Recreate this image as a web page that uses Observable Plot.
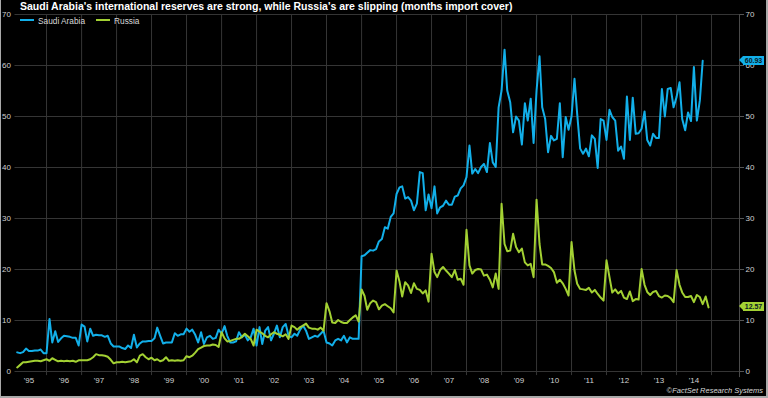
<!DOCTYPE html>
<html>
<head>
<meta charset="utf-8">
<script src="https://cdn.jsdelivr.net/npm/d3@7"></script>
<script src="https://cdn.jsdelivr.net/npm/@observablehq/plot@0.6"></script>
<style>
  html, body { margin: 0; padding: 0; background: #a9a9a9; }
  #wrap { position: relative; width: 768px; height: 398px; overflow: hidden; font-family: "Liberation Sans", Arial, sans-serif; }
  #bg { position: absolute; left: 1px; top: 0; width: 765px; height: 396px; background: #000; }
  #chart { position: absolute; left: 0; top: 0; }
  #title { position: absolute; left: 20px; top: 1px; font-size: 10.5px; line-height: 1; font-weight: bold; color: #fff; white-space: nowrap; }
  #legend { position: absolute; left: 20px; top: 16.5px; font-size: 8.3px; line-height: 1; color: #d8d8d8; display: flex; align-items: center; white-space: nowrap; }
  #legend .sw { display: inline-block; width: 14px; height: 2px; margin-right: 4px; position: relative; top: -1px; }
  #legend .item { display: flex; align-items: center; margin-right: 11px; }
  #caption { position: absolute; right: 5px; top: 387px; font-size: 7.5px; line-height: 1; font-style: italic; color: #d8d8d8; white-space: nowrap; }
  .endlab { position: absolute; left: 743px; height: 9px; width: 21px; font-size: 7px; line-height: 9px; font-weight: bold; text-align: center; color: #0a1a24; }
  .endlab::before { content: ""; position: absolute; left: -4px; top: 0; border-top: 4.5px solid transparent; border-bottom: 4.5px solid transparent; border-right: 4px solid var(--c); }
</style>
</head>
<body>
<div id="wrap">
  <div id="bg"></div>
  <div id="chart"></div>
  <div id="title"></div>
  <div id="legend"></div>
  <div id="caption"></div>
</div>
<script>
// ---- Data (monthly, months import cover), first value = March 1995 ----
const startYear = 1995, startMonth = 2; // March (0-based)

const saudiArabia = [
  3.75, 3.6, 3.8, 4.5, 4.0, 4.0, 4.1, 4.1, 4.3, 3.6,                 // 1995 Mar-Dec
  3.6, 10.3, 5.7, 7.9, 5.8, 6.5, 7.0, 6.9, 6.8, 6.6, 6.6, 5.1,       // 1996
  9.2, 8.8, 5.9, 8.4, 7.0, 7.2, 7.1, 7.1, 6.8, 7.0, 5.5, 4.9,        // 1997
  4.9, 4.9, 4.6, 4.4, 5.1, 4.6, 7.2, 4.7, 5.5, 5.9, 5.9, 6.0,        // 1998
  6.0, 6.5, 8.6, 7.0, 5.5, 5.7, 5.7, 5.7, 7.5, 7.0, 7.3, 7.3,        // 1999
  8.4, 7.8, 8.2, 7.2, 5.7, 7.7, 5.4, 6.7, 7.0, 6.4, 6.6, 8.2,        // 2000
  7.4, 8.9, 7.0, 5.7, 5.7, 5.9, 7.7, 6.7, 7.2, 6.1, 6.7, 8.4,        // 2001
  5.1, 8.7, 5.4, 8.0, 8.7, 6.1, 7.4, 9.0, 6.7, 8.7, 9.3, 7.0,        // 2002
  6.7, 7.4, 7.0, 8.2, 9.0, 8.0, 6.4, 6.7, 7.0, 6.8, 7.4, 8.0,        // 2003
  5.7, 5.5, 5.1, 6.1, 6.4, 6.1, 7.0, 5.7, 6.7, 6.4, 6.4, 6.4,        // 2004
  22.6, 22.8, 23.3, 23.8, 23.7, 24.0, 25.5, 26.0, 28.3, 28.0, 30.3, 31.0, // 2005
  34.8, 36.1, 36.3, 33.9, 34.2, 33.5, 31.6, 32.9, 39.1, 38.9, 31.6, 34.7, // 2006
  32.0, 36.3, 31.0, 32.2, 32.5, 33.5, 32.7, 32.7, 34.3, 34.5, 35.9, 36.5, // 2007
  38.1, 44.3, 38.8, 39.7, 38.9, 40.1, 40.7, 39.1, 44.8, 41.0, 40.1, 51.8, // 2008
  55.1, 63.1, 55.1, 52.8, 46.9, 50.0, 49.2, 44.5, 52.6, 49.2, 53.5, 44.8, // 2009
  55.1, 61.8, 51.8, 49.5, 43.0, 46.2, 45.3, 45.6, 52.6, 42.0, 49.9, 47.4, // 2010
  50.0, 57.4, 50.5, 43.7, 42.7, 43.7, 42.2, 46.3, 45.6, 39.9, 49.5, 49.2, // 2011
  45.4, 51.3, 49.9, 49.2, 43.3, 44.1, 41.7, 53.9, 45.4, 53.7, 46.6, 46.7, // 2012
  47.6, 51.0, 45.4, 44.3, 46.6, 45.8, 45.8, 55.4, 50.0, 55.4, 55.6, 51.8, // 2013
  53.8, 56.7, 49.5, 47.3, 50.8, 49.1, 59.7, 49.2, 53.1, 60.93              // 2014
];

const russia = [
  0.8, 1.3, 1.8, 1.8, 1.9, 2.0, 2.1, 2.1, 2.0, 2.2,                  // 1995 Mar-Dec
  2.4, 2.1, 2.6, 2.3, 2.0, 2.1, 2.0, 2.1, 2.0, 2.1, 1.9, 2.2,        // 1996
  2.2, 2.2, 2.2, 2.4, 2.8, 3.4, 3.2, 3.2, 3.1, 2.9, 2.3, 1.6,        // 1997
  1.8, 1.8, 1.9, 1.8, 1.9, 2.0, 2.4, 1.8, 3.1, 3.4, 2.8, 2.4,        // 1998
  2.7, 2.2, 2.4, 2.0, 2.2, 2.8, 2.1, 2.2, 2.1, 2.2, 2.1, 2.2,        // 1999
  3.0, 2.8, 3.1, 3.7, 4.4, 4.7, 5.0, 5.1, 5.1, 5.3, 5.2, 4.8,        // 2000
  7.7, 6.5, 5.9, 6.0, 6.2, 6.4, 6.4, 6.8, 7.4, 6.9, 6.4, 5.1,        // 2001
  8.2, 7.8, 7.5, 7.0, 6.7, 7.3, 7.7, 7.4, 7.2, 6.9, 7.3, 6.4,        // 2002
  9.0, 8.7, 8.2, 8.7, 9.0, 9.4, 8.6, 8.4, 8.4, 8.2, 8.6, 8.0,        // 2003
  13.4, 11.8, 9.6, 9.5, 10.1, 9.7, 9.5, 9.5, 10.1, 10.6, 11.0, 9.8,  // 2004
  16.1, 14.8, 12.1, 13.4, 13.9, 13.6, 12.2, 12.9, 13.2, 12.8, 12.4, 11.6, // 2005
  19.8, 17.6, 14.7, 17.5, 16.9, 15.4, 17.3, 16.2, 16.0, 15.3, 15.9, 13.7, // 2006
  23.1, 19.5, 18.5, 19.9, 20.5, 19.8, 19.2, 18.5, 19.9, 18.0, 18.2, 17.0, // 2007
  27.8, 20.8, 19.2, 19.9, 20.1, 20.0, 18.8, 19.0, 18.0, 16.5, 19.2, 16.2, // 2008
  32.9, 25.0, 23.6, 23.7, 27.0, 24.4, 23.4, 24.1, 21.4, 20.8, 21.1, 18.5, // 2009
  33.7, 25.0, 21.0, 21.0, 20.7, 20.3, 19.5, 17.4, 18.0, 17.3, 16.2, 14.9, // 2010
  25.4, 19.8, 17.2, 16.2, 16.1, 16.0, 16.4, 15.5, 16.0, 15.2, 14.5, 13.9, // 2011
  21.8, 18.5, 15.5, 16.1, 15.3, 15.8, 14.5, 14.2, 15.7, 13.8, 14.2, 14.1, // 2012
  20.1, 17.0, 15.6, 15.0, 15.6, 15.8, 14.8, 14.5, 14.9, 14.8, 14.4, 13.6, // 2013
  19.9, 17.0, 15.5, 14.6, 14.6, 14.8, 13.6, 15.0, 14.6, 13.2, 14.7, 12.57 // 2014
];

const seriesNames = ["Saudi Arabia", "Russia"];
const seriesColors = ["#12afe9", "#a3d133"];
const yearLabels = ["'95","'96","'97","'98","'99","'00","'01","'02","'03","'04",
                    "'05","'06","'07","'08","'09","'10","'11","'12","'13","'14"];
const yTicks = [0, 10, 20, 30, 40, 50, 60, 70];
const titleText = "Saudi Arabia's international reserves are strong, while Russia's are slipping (months import cover)";
const captionText = "\u00A9FactSet Research Systems";

// ---- Build tables ----
const toRows = (arr, name) => arr.map((v, i) => ({
  date: new Date(Date.UTC(startYear, startMonth + i, 1)), value: v, series: name
}));
const saudiRows = toRows(saudiArabia, seriesNames[0]);
const russiaRows = toRows(russia, seriesNames[1]);

const xStart = new Date(Date.UTC(1995, 1, 6));
const xEnd = new Date(Date.UTC(2015, 9, 20));
const gridDates = yearLabels.map((_, i) => new Date(Date.UTC(1996 + i, 0, 1)));
const labelDates = yearLabels.map((_, i) => new Date(Date.UTC(1995 + i, 6, 2)));

const gridColor = "#353535";
const textColor = "#d0d0d0";

const plot = Plot.plot({
  width: 768,
  height: 398,
  marginTop: 14,
  marginBottom: 27,
  marginLeft: 14.5,
  marginRight: 29,
  style: { background: "transparent", fontFamily: "'Liberation Sans', Arial, sans-serif", color: textColor },
  x: { type: "utc", domain: [xStart, xEnd] },
  y: { domain: [0, 70] },
  marks: [
    Plot.ruleY(yTicks, { stroke: gridColor }),
    Plot.ruleX(gridDates, { y1: -0.8, y2: 70, stroke: gridColor }),
    Plot.ruleX([xEnd], { y1: -1.2, y2: 70, stroke: "#4a4a4a" }),
    Plot.axisY(yTicks, { anchor: "left", tickSize: 0, tickPadding: 4, fontSize: 8, fill: textColor, label: null }),
    Plot.axisY(yTicks, { anchor: "right", tickSize: 4, tickPadding: 2, fontSize: 8, fill: textColor, stroke: "#555", label: null }),
    Plot.axisX(labelDates, { anchor: "bottom", tickSize: 0, tickPadding: 6, fontSize: 8, fill: textColor, label: null,
      tickFormat: d => yearLabels[d.getUTCFullYear() - 1995] }),
    Plot.line(saudiRows, { x: "date", y: "value", stroke: seriesColors[0], strokeWidth: 2, strokeLinejoin: "round" }),
    Plot.line(russiaRows, { x: "date", y: "value", stroke: seriesColors[1], strokeWidth: 2, strokeLinejoin: "round" })
  ]
});
document.getElementById("chart").appendChild(plot);

// ---- Text overlays ----
document.getElementById("title").textContent = titleText;
document.getElementById("caption").textContent = captionText;
const legend = document.getElementById("legend");
seriesNames.forEach((n, i) => {
  const item = document.createElement("span");
  item.className = "item";
  const sw = document.createElement("span");
  sw.className = "sw";
  sw.style.background = seriesColors[i];
  item.appendChild(sw);
  item.appendChild(document.createTextNode(n));
  legend.appendChild(item);
});

// ---- End-value labels positioned with the y scale ----
const ys = plot.scale("y");
const wrap = document.getElementById("wrap");
[saudiArabia, russia].forEach((arr, i) => {
  const v = arr[arr.length - 1];
  const el = document.createElement("div");
  el.className = "endlab";
  el.style.background = seriesColors[i];
  el.style.setProperty("--c", seriesColors[i]);
  el.style.top = (ys.apply(v) - 4.5) + "px";
  el.textContent = v.toFixed(2);
  wrap.appendChild(el);
});
</script>
</body>
</html>
